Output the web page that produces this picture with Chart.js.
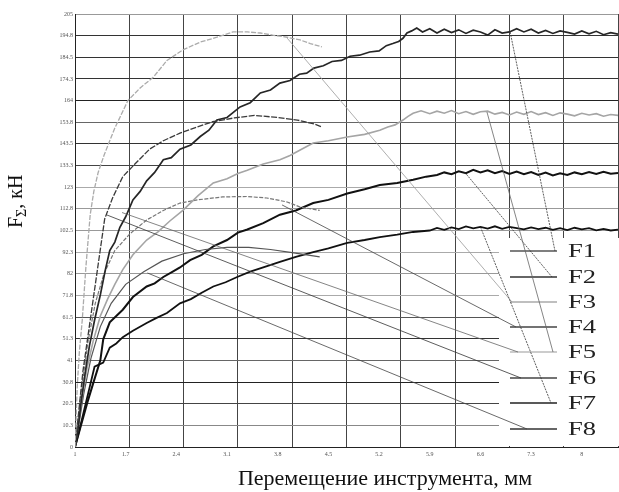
<!DOCTYPE html>
<html>
<head>
<meta charset="utf-8">
<script src="https://cdn.jsdelivr.net/npm/chart.js@4.4.0/dist/chart.umd.min.js"></script>
<style>
	html, body { margin: 0; padding: 0; background: #fff; }
</style>
</head>
<body>
<canvas id="chart" width="619" height="492"></canvas>
<script>
//tick labels and grid positions
const xTickLabels = [1, 1.7, 2.4, 3.1, 3.8, 4.5, 5.2, 5.9, 6.6, 7.3, 8];
const xGridLines = [1, 1.75, 2.5, 3.25, 4, 4.75, 5.5, 6.25, 7, 7.75, 8.5];
const yGridColors = ['#000', '#888', '#444', '#222', '#666', '#333', '#555', '#aaa', '#999', '#aaa', '#999',
	'#999', '#aaa', '#444', '#333', '#666', '#222', '#333', '#333', '#333', '#999'];

//curve A - light gray arc, highest peak
const curveAx = [1, 1.01, 1.03, 1.06, 1.1, 1.15, 1.21, 1.26, 1.32, 1.4, 1.48, 1.55, 1.62, 1.73, 1.9, 2.08, 2.27, 2.49, 2.73, 2.96, 3.18, 3.38, 3.56, 3.73, 3.93, 4.11, 4.25, 4.41];
const curveAy = [0, 8, 28, 45, 60, 85, 110, 121, 130, 138, 145, 151, 156, 164, 170, 175, 183, 188, 191.7, 194, 196.5, 196.5, 196, 195, 194, 192.7, 191, 189.4];

//curve B - dark arc
const curveBx = [1, 1.04, 1.11, 1.21, 1.31, 1.41, 1.52, 1.66, 1.8, 2.03, 2.22, 2.45, 2.69, 2.9, 3.2, 3.48, 3.8, 4.07, 4.3, 4.41];
const curveBy = [0, 13, 36, 60, 84, 108, 118, 128, 133, 141, 145, 148.6, 151.5, 154, 155.8, 157, 156, 154.8, 153, 151.5];

//curve C - dark noisy, top level
const curveCx = [1, 1.04, 1.08, 1.14, 1.2, 1.27, 1.35, 1.42, 1.48, 1.55, 1.62, 1.7, 1.8, 1.9, 1.99, 2.1, 2.22, 2.33, 2.45, 2.6, 2.73, 2.85, 2.96, 3.1, 3.28, 3.42, 3.56, 3.7, 3.83, 3.97, 4.1, 4.2, 4.3, 4.43, 4.55, 4.68, 4.8, 4.93, 5.07, 5.2, 5.3, 5.39, 5.47, 5.53, 5.585, 5.65, 5.72, 5.8, 5.9, 6.0, 6.1, 6.2, 6.3, 6.4, 6.5, 6.6, 6.7, 6.8, 6.9, 7.0, 7.1, 7.2, 7.3, 7.4, 7.5, 7.6, 7.7, 7.8, 7.9, 8.0, 8.1, 8.2, 8.3, 8.4, 8.5];
const curveCy = [0, 8, 20, 35, 48, 60, 72, 84, 93, 97, 104, 109, 117, 121, 126, 130, 136, 137, 141, 143, 147, 150, 154.8, 156, 161, 163, 167.6, 169, 172.3, 173.5, 176.5, 177, 179.4, 180.5, 182.5, 183, 185, 185.5, 187, 187.5, 190, 191, 192, 193.5, 196, 197, 198.4, 196.5, 198, 196, 197.8, 196.2, 197.5, 195.8, 197.3, 196.5, 195, 197.5, 196, 196.5, 198, 196.5, 197.8, 196, 197.2, 195.8, 197, 196.3, 195.5, 197, 195.6, 196.8, 195.2, 196.2, 195.5];

//curve D - light gray noisy
const curveDx = [1, 1.04, 1.1, 1.17, 1.25, 1.35, 1.45, 1.55, 1.66, 1.8, 1.99, 2.15, 2.31, 2.49, 2.7, 2.91, 3.1, 3.25, 3.38, 3.6, 3.83, 3.97, 4.11, 4.29, 4.5, 4.76, 5.0, 5.21, 5.32, 5.42, 5.53, 5.6, 5.67, 5.78, 5.9, 6.0, 6.1, 6.2, 6.3, 6.4, 6.5, 6.6, 6.7, 6.8, 6.9, 7.0, 7.1, 7.2, 7.3, 7.4, 7.5, 7.6, 7.7, 7.8, 7.9, 8.0, 8.1, 8.2, 8.3, 8.4, 8.5];
const curveDy = [0, 10, 24, 38, 50, 62, 70, 77, 84, 91, 98, 102, 107, 112, 119, 125, 127, 129.5, 131, 134, 136, 138, 140.6, 143.9, 145, 146.8, 148, 150, 151.5, 152.5, 154.8, 156.5, 158, 159.2, 157.8, 159, 158, 159.3, 157.8, 158.8, 157.5, 158.7, 159, 157.6, 158.4, 157.2, 158.6, 157.5, 158.8, 157.4, 158.3, 157, 158.2, 157.6, 156.8, 158, 157.2, 157.8, 156.6, 157.4, 157];

//curve E - gray arc
const curveEx = [1, 1.04, 1.1, 1.18, 1.28, 1.4, 1.55, 1.76, 1.99, 2.22, 2.45, 2.69, 3.04, 3.38, 3.65, 3.93, 4.11, 4.38];
const curveEy = [0, 12, 30, 50, 68, 82, 93, 101, 107.5, 112, 115.5, 117, 118.4, 118.6, 117.9, 116, 113.6, 112];

//curve F - dark gray arc, lowest peak
const curveFx = [1, 1.05, 1.12, 1.22, 1.35, 1.5, 1.7, 1.95, 2.2, 2.5, 2.8, 3.1, 3.4, 3.7, 4.0, 4.38];
const curveFy = [0, 10, 25, 42, 57, 68, 77, 83, 88, 91.5, 93.5, 94.5, 94.5, 93.5, 92, 90];

//curve G - black noisy, middle level
const curveGx = [1, 1.08, 1.17, 1.25, 1.35, 1.39, 1.48, 1.57, 1.66, 1.8, 1.99, 2.1, 2.22, 2.35, 2.45, 2.59, 2.75, 2.91, 3.1, 3.25, 3.38, 3.6, 3.83, 4.05, 4.29, 4.5, 4.76, 5.0, 5.21, 5.45, 5.67, 5.85, 6.0, 6.1, 6.2, 6.3, 6.4, 6.5, 6.6, 6.7, 6.8, 6.9, 7.0, 7.1, 7.2, 7.3, 7.4, 7.5, 7.6, 7.7, 7.8, 7.9, 8.0, 8.1, 8.2, 8.3, 8.4, 8.5];
const curveGy = [0, 10, 21, 30, 41, 51, 59, 62, 65, 71, 76, 77.5, 80.5, 83, 85, 88.5, 91, 95, 98, 101.5, 103, 106, 110, 112, 115.5, 117, 120, 122, 124, 125, 126.5, 128, 128.8, 130, 129.2, 130.5, 129.6, 131.2, 130, 131, 129.6, 130.6, 129.3, 130.4, 129.2, 130.2, 128.8, 129.9, 128.6, 129.6, 128.8, 130, 129.2, 130.2, 129.3, 130.3, 129.4, 129.7];

//curve H - black noisy, lower level
const curveHx = [1, 1.06, 1.13, 1.2, 1.27, 1.39, 1.48, 1.57, 1.66, 1.8, 1.99, 2.12, 2.27, 2.45, 2.6, 2.75, 2.91, 3.08, 3.24, 3.42, 3.6, 3.83, 4.05, 4.29, 4.5, 4.76, 5.0, 5.21, 5.45, 5.67, 5.9, 6.0, 6.1, 6.2, 6.3, 6.4, 6.5, 6.6, 6.7, 6.8, 6.9, 7.0, 7.1, 7.2, 7.3, 7.4, 7.5, 7.6, 7.7, 7.8, 7.9, 8.0, 8.1, 8.2, 8.3, 8.4, 8.5];
const curveHy = [0, 8, 18, 28, 38, 40, 47, 49, 52, 55, 58.7, 61, 63.4, 68, 70, 73, 76, 78, 80.5, 83, 85, 87.6, 90, 92.3, 94, 96.6, 98, 99.4, 100.5, 101.8, 102.5, 103.7, 102.8, 104, 103.2, 104.4, 103.5, 104.2, 103.4, 104.5, 103.3, 104.2, 103.6, 103, 104, 103.2, 103.8, 102.8, 103.6, 102.7, 103.8, 103, 103.6, 102.6, 103.3, 102.5, 102.9];

//legend labels, line colours and leader lines (curve point -> legend row)
const legendLabels = ['F1', 'F2', 'F3', 'F4', 'F5', 'F6', 'F7', 'F8'];
const legendColors = ['#555', '#333', '#aaa', '#444', '#bbb', '#444', '#222', '#333'];
const leaders = [
	{ x: 3.93, y: 193.6, row: 2, toX: 512, color: '#999' },
	{ x: 3.86, y: 114.6, row: 3, toX: 516, color: '#444' },
	{ x: 1.65, y: 111, row: 4, toX: 518, color: '#666' },
	{ x: 1.43, y: 110, row: 5, toX: 521, color: '#333' },
	{ x: 2.0, y: 82.4, row: 7, toX: 527, color: '#444' },
	{ x: 7.01, y: 196.5, row: 0, toX: 555, color: '#333', dash: [2, 1] },
	{ x: 6.38, y: 130.2, row: 1, toX: 552, color: '#333', dash: [2, 1] },
	{ x: 6.69, y: 158.6, row: 4, toX: 553, color: '#666' },
	{ x: 6.6, y: 104.2, row: 6, toX: 551, color: '#333', dash: [2, 1] }
];

const legendRows = [251, 277, 302, 327, 352, 378, 403, 429];

//turns two value arrays into chart.js points
function toPoints(xs, ys) {
	return xs.map((x, i) => ({ x: x, y: ys[i] }));
}

function makeDataset(xs, ys, color, width, dash) {
	return {
		data: toPoints(xs, ys),
		borderColor: color,
		borderWidth: width,
		borderDash: dash || [],
		pointRadius: 0,
		tension: 0,
		fill: false
	};
}

//draws legend box, leader lines and axis titles on top of the plot
const annotationPlugin = {
	id: 'annotations',
	beforeDatasetsDraw(chart) {
		const ctx = chart.ctx;
		ctx.save();
		ctx.fillStyle = '#fff';
		ctx.fillRect(499, 238, 120, 208);
		ctx.restore();
	},
	afterDatasetsDraw(chart) {
		const ctx = chart.ctx;
		const xs = chart.scales.x;
		const ys = chart.scales.y;
		ctx.save();

		//legend lines and labels (the source labels are stretched sideways)
		legendRows.forEach((rowY, i) => {
			ctx.strokeStyle = legendColors[i];
			ctx.lineWidth = 1.5;
			ctx.setLineDash([]);
			ctx.beginPath();
			ctx.moveTo(510, rowY);
			ctx.lineTo(557, rowY);
			ctx.stroke();
			ctx.save();
			ctx.translate(568, rowY + 1);
			ctx.scale(1.4, 1);
			ctx.fillStyle = '#222';
			ctx.font = '19px "Liberation Serif"';
			ctx.textBaseline = 'middle';
			ctx.fillText(legendLabels[i], 0, 0);
			ctx.restore();
		});

		//leader lines from curves to legend rows
		leaders.forEach(l => {
			ctx.strokeStyle = l.color;
			ctx.lineWidth = 0.8;
			ctx.setLineDash(l.dash || []);
			ctx.beginPath();
			ctx.moveTo(xs.getPixelForValue(l.x), ys.getPixelForValue(l.y));
			ctx.lineTo(l.toX, legendRows[l.row]);
			ctx.stroke();
		});

		//axis titles
		ctx.setLineDash([]);
		ctx.fillStyle = '#111';
		ctx.font = '22px "Liberation Serif"';
		ctx.textAlign = 'center';
		ctx.textBaseline = 'alphabetic';
		ctx.fillText('Перемещение инструмента, мм', 385, 485);

		ctx.translate(22, 228);
		ctx.rotate(-Math.PI / 2);
		ctx.textAlign = 'left';
		ctx.font = '20px "Liberation Serif"';
		ctx.fillText('F', 0, 0);
		let w = ctx.measureText('F').width;
		ctx.font = '14px "Liberation Serif"';
		ctx.fillText('Σ', w, 4);
		w += ctx.measureText('Σ').width;
		ctx.font = '20px "Liberation Serif"';
		ctx.fillText(', кН', w, 0);
		ctx.restore();
	}
};

function generateChart() {
	const ctx = document.getElementById('chart').getContext('2d');

	const datasets = [
		makeDataset(curveAx, curveAy, '#ababab', 1.3, [5, 1.5]),
		makeDataset(curveBx, curveBy, '#3a3a3a', 1.3, [6, 1.5]),
		makeDataset(curveCx, curveCy, '#262626', 1.7),
		makeDataset(curveDx, curveDy, '#a5a5a5', 1.6),
		makeDataset(curveEx, curveEy, '#777', 1.2, [4, 1.5]),
		makeDataset(curveFx, curveFy, '#555', 1.2),
		makeDataset(curveGx, curveGy, '#111', 2),
		makeDataset(curveHx, curveHy, '#111', 1.8)
	];

	new Chart(ctx, {
		type: 'line',
		data: { datasets: datasets },
		options: {
			responsive: false,
			animation: false,
			devicePixelRatio: 1,
			layout: { padding: { top: 14, right: 1, left: 0, bottom: 0 } },
			plugins: {
				legend: { display: false },
				tooltip: { enabled: false }
			},
			scales: {
				x: {
					type: 'linear',
					position: 'bottom',
					min: 1,
					max: 8.5,
					afterBuildTicks: s => { s.ticks = xTickLabels.map(v => ({ value: v })); },
					afterFit: s => { s.height = 45; },
					ticks: {
						autoSkip: false,
						maxRotation: 0,
						padding: 4,
						color: '#555',
						font: { family: 'Liberation Serif', size: 6 },
						callback: v => String(v)
					},
					grid: { display: false, drawTicks: false },
					border: { display: true, color: '#222' }
				},
				xGrid: {
					type: 'linear',
					position: 'bottom',
					min: 1,
					max: 8.5,
					afterBuildTicks: s => { s.ticks = xGridLines.map(v => ({ value: v })); },
					afterFit: s => { s.height = 0; },
					ticks: { display: false },
					grid: { color: '#444', drawTicks: false },
					border: { display: false }
				},
				y: {
					type: 'linear',
					min: 0,
					max: 205,
					afterFit: s => { s.width = 75; },
					ticks: {
						stepSize: 10.25,
						padding: 2,
						color: '#555',
						font: { family: 'Liberation Serif', size: 6 }
					},
					grid: {
						color: c => yGridColors[c.index] || '#999',
						drawTicks: false
					},
					border: { display: true, color: '#222' }
				}
			}
		},
		plugins: [annotationPlugin]
	});
}

generateChart();
</script>
</body>
</html>
